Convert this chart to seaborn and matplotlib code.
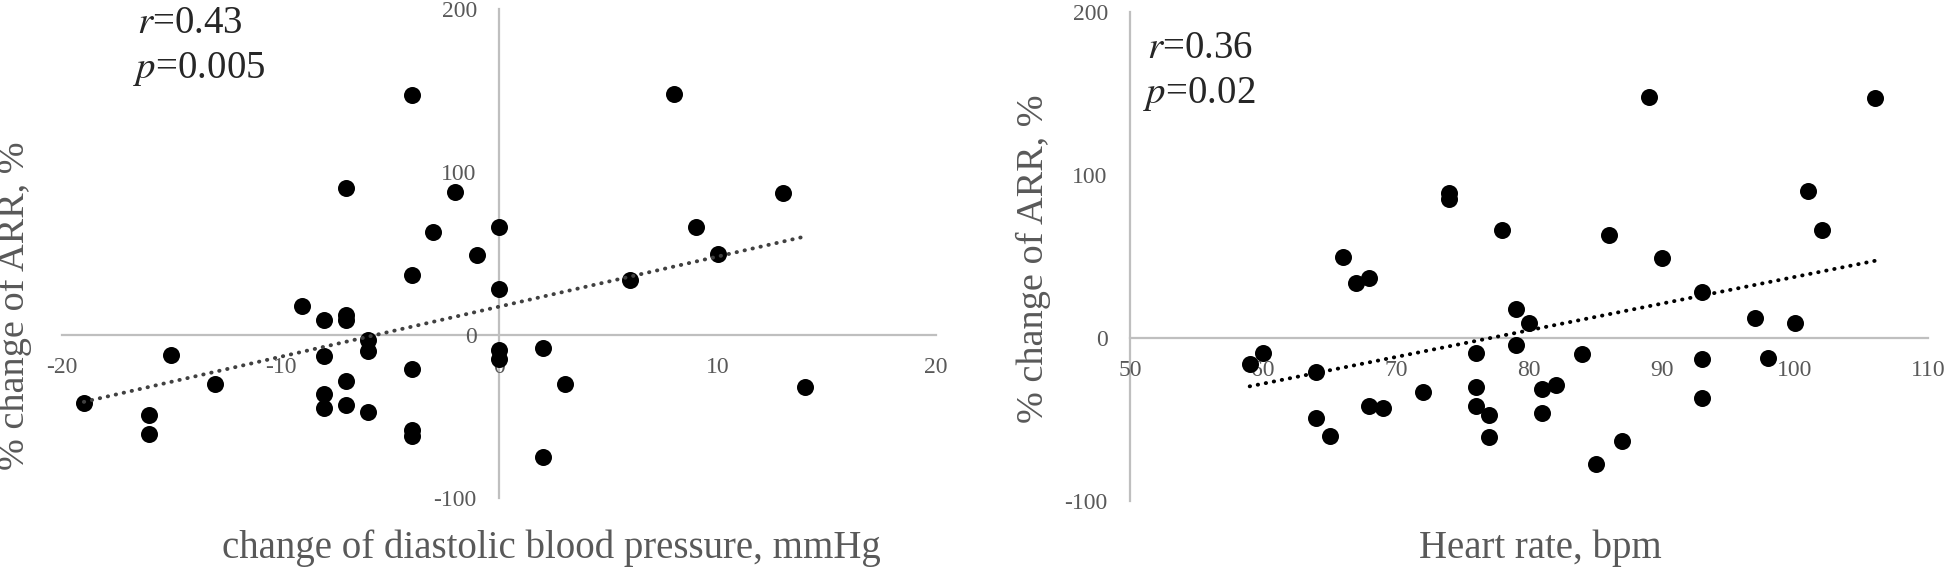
import numpy as np
import matplotlib
matplotlib.use("Agg")
import matplotlib.pyplot as plt
import seaborn as sns

# ── Data ────────────────────────────────────────────────────
# left panel: change of diastolic BP vs % change of ARR
dbp_change = [-4, -7, -2, -3, 0, -1, -4, 0, -9, 8, 13, 9, 10, 6,
              -8, -7, -7, -6, -6, -8, -15, -13, -19, -16, -16, -4, -7,
              -8, -8, -7, -6, -4, -4, 0, 0, 2, 3, 14, 2]
arr_dbp = [147, 90, 88, 63, 66, 49, 37, 28, 18, 148, 87, 66, 50, 34,
           9, 12, 9, -3, -10, -13, -12, -30, -42, -49, -61, -21, -28,
           -36, -45, -43, -47, -58, -62, -9, -15, -8, -30, -32, -75]

# right panel: heart rate vs % change of ARR
heart_rate = [74, 74, 66, 67, 68, 89, 106, 101, 78, 86, 90, 102, 93,
              59, 60, 64, 64, 65, 68, 69, 72, 76, 76, 76, 77, 77,
              79, 80, 79, 84, 81, 82, 81, 85, 87, 93, 93, 97, 100, 98]
arr_hr = [89, 85, 50, 34, 37, 148, 147, 90, 66, 63, 49, 66, 28,
          -16, -9, -21, -49, -60, -42, -43, -33, -9, -30, -42, -47, -61,
          18, 9, -4, -10, -31, -29, -46, -77, -63, -13, -37, 12, 9, -12]

left_text = ["$r$=0.43", "$p$=0.005"]
right_text = ["$r$=0.36", "$p$=0.02"]

left_xticks = [-20, -10, 0, 10, 20]
right_xticks = [50, 60, 70, 80, 90, 100, 110]
yticks = [-100, 0, 100, 200]

# ── Style ────────────────────────────────────────────────────
sns.set_style("white")
plt.rcParams['font.family'] = ['Liberation Serif', 'DejaVu Serif']
plt.rcParams['mathtext.fontset'] = 'stix'
plt.rcParams['axes.unicode_minus'] = False

W, H = 1946, 568
fig = plt.figure(figsize=(W / 100, H / 100), dpi=100)

GRAY_AX = '#bfbfbf'
GRAY_TXT = '#595959'


def px_axes(x0, y0, x1, y1):
    return fig.add_axes([x0 / W, 1 - y1 / H, (x1 - x0) / W, (y1 - y0) / H])


def style_axes(ax, xlim, xticks, cross_x):
    ax.set_xlim(*xlim)
    ax.set_ylim(-100, 200)
    ax.set_xticks(xticks)
    ax.set_yticks(yticks)
    for s in ['top', 'right']:
        ax.spines[s].set_visible(False)
    ax.spines['left'].set_position(('data', cross_x))
    ax.spines['bottom'].set_position(('data', 0))
    for s in ['left', 'bottom']:
        ax.spines[s].set_color(GRAY_AX)
        ax.spines[s].set_linewidth(1.6)
        ax.spines[s].set_zorder(0)
    ax.tick_params(axis='both', length=0, labelsize=17, labelcolor=GRAY_TXT, pad=16)
    ax.set_xlabel("")
    ax.set_ylabel("")
    ax.patch.set_alpha(0)


dot_kws = dict(s=150, color='black', linewidths=0, alpha=1, zorder=2)
trend_ls = (0, (0.1, 2.0))

# ── Left panel ───────────────────────────────────────────────
ax1 = px_axes(62, 9, 936, 498)
sns.regplot(x=dbp_change, y=arr_dbp, ax=ax1, ci=None, truncate=True,
            scatter_kws=dot_kws,
            line_kws=dict(color='#404040', lw=2.8, ls=trend_ls,
                          dash_capstyle='round', zorder=3))
style_axes(ax1, (-20, 20), left_xticks, 0)

# ── Right panel ──────────────────────────────────────────────
ax2 = px_axes(1130, 12, 1928, 501)
sns.regplot(x=heart_rate, y=arr_hr, ax=ax2, ci=None, truncate=True,
            scatter_kws=dot_kws,
            line_kws=dict(color='black', lw=2.8, ls=trend_ls,
                          dash_capstyle='round', zorder=3))
style_axes(ax2, (50, 110), right_xticks, 50)

# ── Texts ────────────────────────────────────────────────────
fig.text(137 / W, 1 - 33 / H, left_text[0], fontsize=28, va='baseline')
fig.text(133 / W, 1 - 78 / H, left_text[1], fontsize=28, va='baseline')
fig.text(1147 / W, 1 - 58 / H, right_text[0], fontsize=28, va='baseline')
fig.text(1143 / W, 1 - 103 / H, right_text[1], fontsize=28, va='baseline')

fig.text(551 / W, 1 - 558 / H, "change of diastolic blood pressure, mmHg",
         fontsize=28, color=GRAY_TXT, ha='center', va='baseline')
fig.text(1540 / W, 1 - 558 / H, "Heart rate, bpm",
         fontsize=28, color=GRAY_TXT, ha='center', va='baseline')
fig.text(14 / W, 1 - 306 / H, "% change of ARR, %", fontsize=27.5,
         color=GRAY_TXT, rotation=90, ha='center', va='center')
fig.text(1033 / W, 1 - 259 / H, "% change of ARR, %", fontsize=27.5,
         color=GRAY_TXT, rotation=90, ha='center', va='center')

fig.savefig("out.png", dpi=100)
